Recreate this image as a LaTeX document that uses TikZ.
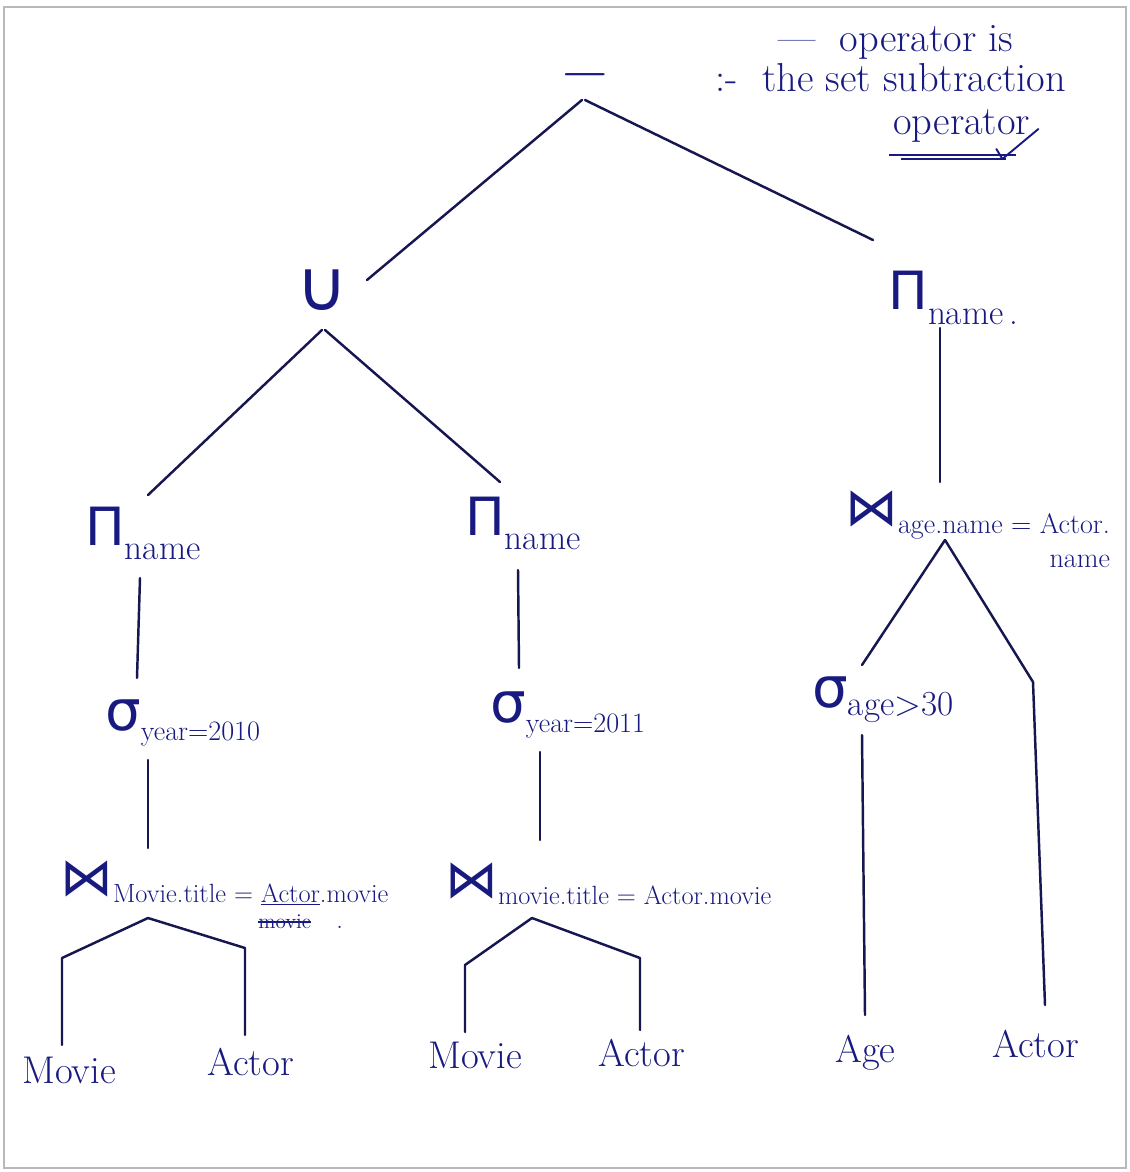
\documentclass[tikz,border=0pt]{standalone}
\usepackage{fontspec}
\newfontfamily\symf{DejaVu Sans}
\usetikzlibrary{calc}
\definecolor{ink}{RGB}{24,26,128}
\definecolor{pen}{RGB}{22,22,80}
\newcommand\myfs[1]{\fontsize{#1}{#1}\selectfont}
\begin{document}
\begin{tikzpicture}[x=0.02cm,y=-0.02cm,
  every node/.style={text=ink, inner sep=0pt},
  op/.style={anchor=base west},
  leaf/.style={anchor=base west, font=\myfs{22}},
  note/.style={anchor=base west, font=\myfs{23}},
  edge/.style={draw=pen, line width=1.4pt, line cap=round, line join=round}]
\useasboundingbox (0,0) rectangle (1129,1172);
\draw[gray!55, line width=0.6pt] (4,7) rectangle (1126,1168);

% note
\node[note] (n1) at (778,52) {--- \ operator is};
\node[note] (n2) at (715,92) {:- \ the set subtraction};
\node[note] (n3) at (893,135) {operator};
\draw[ink, line width=1.1pt] ($(n3.base west)+(-4,20)$) -- ($(n3.base east)+(-14,20)$);
\draw[ink, line width=0.8pt] ($(n3.base west)+(8,24)$) -- ($(n3.base east)+(-24,24)$);
\draw[ink, line width=1.1pt, line cap=round, line join=round] ($(n3.base east)+(-34,14)$) -- ($(n3.base east)+(-28,24)$) -- ($(n3.base east)+(8,-6)$);

% operators
\node (m) at (585,82) {\myfs{36}−};
\node (u) at (322,290) {\symf\myfs{40}∪};
\node[op] (pr) at (888,310) {{\symf\myfs{30}Π}{\myfs{20}\raisebox{-8pt}{name\,.}}};
\node[op] (pl) at (85,545) {{\symf\myfs{30}Π}{\myfs{20}\raisebox{-8pt}{name}}};
\node[op] (pm) at (465,535) {{\symf\myfs{30}Π}{\myfs{20}\raisebox{-8pt}{name}}};
\node[op] (jr) at (845,525) {{\symf\myfs{30}⋈}{\myfs{16}\raisebox{-5pt}{\begin{tabular}[t]{@{}r@{}}age.name = Actor.\\[3pt] name\end{tabular}}}};
\node[op] (sl) at (105,730) {{\symf\myfs{32}σ}{\myfs{16}\raisebox{-6pt}{year=2010}}};
\node[op] (sm) at (490,722) {{\symf\myfs{32}σ}{\myfs{16}\raisebox{-6pt}{year=2011}}};
\node[op] (sa) at (812,707) {{\symf\myfs{32}σ}{\myfs{20}\raisebox{-5pt}{age>30}}};
\node[op] (jl) at (60,895) {{\symf\myfs{30}⋈}{\myfs{15}\raisebox{-4pt}{Movie.title = \underline{Actor}.movie}}};
\node[op] (strk) at (258,928) {\myfs{12}movie};
\draw[ink, line width=1.2pt] ($(strk.west)+(0,1)$) -- ($(strk.east)+(0,1)$);
\node[op] (dot) at (336,928) {\myfs{15}.};
\node[op] (jm) at (445,897) {{\symf\myfs{30}⋈}{\myfs{15}\raisebox{-4pt}{movie.title = Actor.movie}}};

% leaves
\node[leaf] (lm) at (22,1083) {Movie};
\node[leaf] (la) at (207,1075) {Actor};
\node[leaf] (mm) at (428,1068) {Movie};
\node[leaf] (ma) at (598,1066) {Actor};
\node[leaf] (ag) at (835,1062) {Age};
\node[leaf] (ra) at (992,1057) {Actor};

% connectors
\draw[edge] ($(m)+(-3,18)$) -- ($(u)+(45,-10)$);
\draw[edge] ($(m)+(0,18)$) -- ($(pr.base west)+(-15,-70)$);
\draw[edge] ($(u)+(0,40)$) -- ($(pl.base west)+(63,-50)$);
\draw[edge] ($(u)+(3,40)$) -- ($(pm.base west)+(35,-53)$);
\draw[edge] ($(pr.base west)+(52,18)$) -- ($(jr.base west)+(95,-43)$);
\draw[edge] ($(pl.base west)+(55,33)$) -- ($(sl.base west)+(32,-52)$);
\draw[edge] ($(pm.base west)+(53,35)$) -- ($(sm.base west)+(29,-54)$);
\draw[edge] ($(sl.base west)+(43,30)$) -- ($(jl.base west)+(88,-47)$);
\draw[edge] ($(sm.base west)+(50,30)$) -- ($(jm.base west)+(95,-57)$);
\draw[edge] ($(jl.base west)+(88,23)$) -- (62,958) -- ($(lm.base west)+(40,-38)$);
\draw[edge] ($(jl.base west)+(88,23)$) -- (245,948) -- ($(la.base west)+(38,-40)$);
\draw[edge] ($(jm.base west)+(87,21)$) -- (465,965) -- ($(mm.base west)+(37,-36)$);
\draw[edge] ($(jm.base west)+(87,21)$) -- (640,958) -- ($(ma.base west)+(42,-36)$);
\draw[edge] ($(jr.base west)+(100,15)$) -- ($(sa.base west)+(50,-42)$);
\draw[edge] ($(jr.base west)+(100,15)$) -- (1033,682) -- ($(ra.base west)+(53,-52)$);
\draw[edge] ($(sa.base west)+(50,28)$) -- ($(ag.base west)+(30,-47)$);
\end{tikzpicture}
\end{document}
